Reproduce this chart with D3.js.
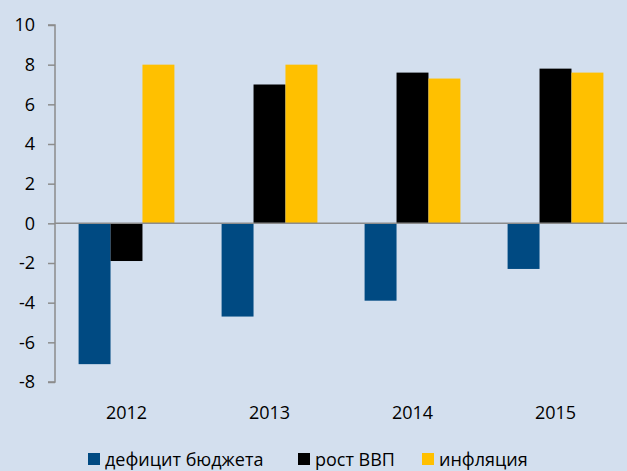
<!DOCTYPE html>
<html><head><meta charset="utf-8">
<script src="https://cdn.jsdelivr.net/npm/d3@7"></script>
<style>body{margin:0;background:#d3dfee;} svg{display:block;}</style>
</head><body>
<script>
const categories = ["2012","2013","2014","2015"];
const seriesNames = ["дефицит бюджета","рост ВВП","инфляция"];
const deficit = [-7.1,-4.7,-3.9,-2.3];
const gdp = [-1.9,7.0,7.6,7.8];
const inflation = [8.0,8.0,7.3,7.6];
const yTicks = [-8,-6,-4,-2,0,2,4,6,8,10];
const colors = ["#004a82","#000000","#ffc000"];
const series = [deficit,gdp,inflation];

const W=627,H=471;
const svg=d3.select("body").append("svg").attr("width",W).attr("height",H);
svg.append("rect").attr("width",W).attr("height",H).attr("fill","#d3dfee");
const font="'Open Sans', 'Liberation Sans', sans-serif";
const left=55,right=627;
const y=d3.scaleLinear().domain([-8,10]).range([382,25]);
const x=d3.scaleBand().domain(categories).range([left,right]).paddingInner(0.33).paddingOuter(0.165);
const xs=d3.scaleBand().domain(d3.range(3)).range([0,x.bandwidth()]);

// bars
series.forEach((s,i)=>{
  svg.append("g").selectAll("rect").data(s).join("rect")
    .attr("x",(d,j)=>x(categories[j])+xs(i))
    .attr("width",xs.bandwidth())
    .attr("y",d=>y(Math.max(0,d)))
    .attr("height",d=>Math.abs(y(d)-y(0)))
    .attr("fill",colors[i]);
});

// y axis
const ya=d3.axisLeft(y).tickValues(yTicks).tickSize(7).tickPadding(13).tickFormat(d=>String(d));
const g=svg.append("g").attr("transform",`translate(${left},0)`).call(ya);
g.select(".domain").attr("stroke","#8c8c8c").attr("stroke-width",1.5).attr("d",`M-7,${y(10)}H0V${y(-8)}H-7`);
g.selectAll(".tick line").attr("stroke","#8c8c8c").attr("stroke-width",1.5);
g.selectAll(".tick text").attr("font-family",font).attr("font-size",18).attr("fill","#000");

// zero line
svg.append("line").attr("x1",left).attr("x2",right).attr("y1",y(0)).attr("y2",y(0))
  .attr("stroke","#8c8c8c").attr("stroke-width",1.5);

// x labels
svg.append("g").selectAll("text").data(categories).join("text")
  .attr("x",d=>x(d)+x.bandwidth()/2).attr("y",419)
  .attr("text-anchor","middle").attr("font-family",font).attr("font-size",18).text(d=>d);

// legend
const legX=[88,298,422];
const lg=svg.append("g").selectAll("g").data(seriesNames).join("g")
  .attr("transform",(d,i)=>`translate(${legX[i]},453)`);
lg.append("rect").attr("width",12).attr("height",12).attr("fill",(d,i)=>colors[i]);
lg.append("text").attr("x",17).attr("y",13).attr("font-family",font).attr("font-size",18).text(d=>d);
</script>
</body></html>
